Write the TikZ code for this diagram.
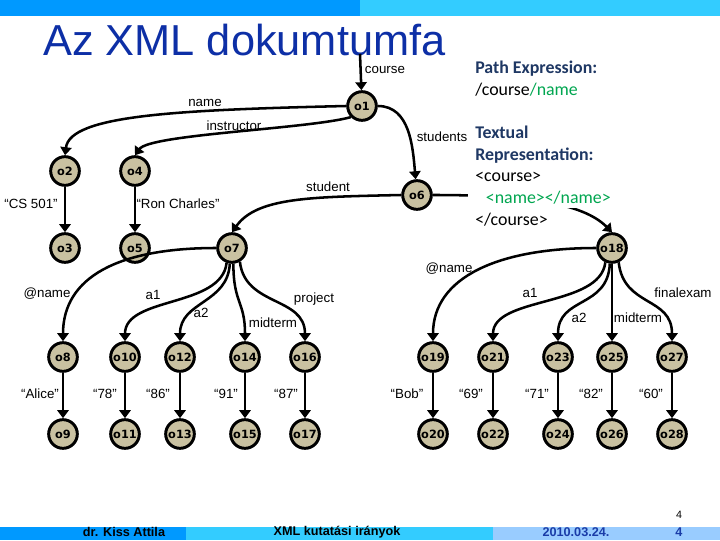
\documentclass[tikz,border=0pt]{standalone}
\usepackage{fontspec}
\setmainfont{Liberation Sans}
\newfontfamily\calfont{Carlito}
\newfontfamily\objfont{DejaVu Sans}
\usetikzlibrary{arrows.meta}
\definecolor{barBlue}{HTML}{0099FF}
\definecolor{barCyan}{HTML}{33CCFF}
\definecolor{barPale}{HTML}{99CCFF}
\definecolor{titleBlue}{HTML}{0D2FA6}
\definecolor{headNavy}{HTML}{1F3864}
\definecolor{pathGreen}{HTML}{00A650}
\definecolor{footBlue}{HTML}{1A3CA8}
\definecolor{objTan}{HTML}{C9C1A1}
\begin{document}
\begin{tikzpicture}[x=0.75pt,y=0.75pt,
  obj/.style={circle, draw=black, line width=2.2pt, fill=objTan, minimum size=21.5pt, inner sep=0pt,
    font=\objfont\bfseries\fontsize{8.5}{9}\selectfont},
  lab/.style={font=\fontsize{10}{11}\selectfont, inner sep=1pt},
  foot/.style={font=\bfseries\fontsize{9.5}{10}\selectfont, inner sep=0pt},
  edge/.style={line width=1.9pt, -{Triangle[length=6pt,width=8.5pt]}}]
\useasboundingbox (0,0) rectangle (720,540);
% bars on top and bottom
\fill[barBlue] (0,524) rectangle (360,540);
\fill[barCyan] (360,524) rectangle (720,540);
\fill[barBlue] (0,0) rectangle (186,13);
\fill[barCyan] (186,0) rectangle (493,13);
\fill[barPale] (493,0) rectangle (720,13);
\node[anchor=base west, inner sep=0pt, text depth=0pt, text=titleBlue, font=\fontsize{32.5}{36}\selectfont] (title) at (43,484) {Az XML dokumtumfa};
% the objects
\node[obj] (o1) at (362,434) {o1};
\node[obj] (o2) at (65,369) {o2};
\node[obj] (o4) at (135,369) {o4};
\node[obj] (o6) at (417,345) {o6};
\node[obj] (o3) at (65,292) {o3};
\node[obj] (o5) at (135,292) {o5};
\node[obj] (o7) at (232,292) {o7};
\node[obj] (o18) at (612,292) {o18};
\node[obj] (o8) at (63,183) {o8};
\node[obj] (o10) at (125,183) {o10};
\node[obj] (o12) at (180,183) {o12};
\node[obj] (o14) at (245,183) {o14};
\node[obj] (o16) at (305,183) {o16};
\node[obj] (o19) at (433,183) {o19};
\node[obj] (o21) at (493,183) {o21};
\node[obj] (o23) at (558,183) {o23};
\node[obj] (o25) at (612,183) {o25};
\node[obj] (o27) at (672,183) {o27};
\node[obj] (o9) at (63,106) {o9};
\node[obj] (o11) at (125,106) {o11};
\node[obj] (o13) at (180,106) {o13};
\node[obj] (o15) at (245,106) {o15};
\node[obj] (o17) at (305,106) {o17};
\node[obj] (o20) at (433,106) {o20};
\node[obj] (o22) at (493,106) {o22};
\node[obj] (o24) at (558,106) {o24};
\node[obj] (o26) at (612,106) {o26};
\node[obj] (o28) at (672,106) {o28};
% upper part of the tree
\coordinate (top) at (360,486);
\draw[edge] (top) -- (o1);
\draw[edge] (o1.west) .. controls +(-170,-4) and +(5,40) .. (o2.north);
\draw[edge] (o1.225) .. controls +(-45,-12) and +(15,21) .. (o4.north);
\draw[edge] (o1) to[out=0,in=95] (o6);
\draw[edge] (o6.west) .. controls +(-90,-2) and +(25,35) .. (o7.north);
\draw[edge] (o6.east) .. controls +(90,0) and +(-30,30) .. (o18.north);
\draw[edge] (o2) -- (o3);
\draw[edge] (o4) -- (o5);
% the two students
\draw[edge] (o7.west) .. controls +(-98,0) and +(0,64) .. (o8.north);
\draw[edge] (o7.250) .. controls +(-5,-45) and +(0,45) .. (o10.north);
\draw[edge] (o7.262) .. controls +(-2,-40) and +(0,40) .. (o12.north);
\draw[edge] (o7.275) .. controls +(0,-40) and +(0,40) .. (o14.north);
\draw[edge] (o7.300) .. controls +(5,-45) and +(0,45) .. (o16.north);
\draw[edge] (o18.west) .. controls +(-98,0) and +(0,64) .. (o19.north);
\draw[edge] (o18.245) .. controls +(-5,-45) and +(0,45) .. (o21.north);
\draw[edge] (o18.262) .. controls +(-2,-45) and +(0,45) .. (o23.north);
\draw[edge] (o18) -- (o25);
\draw[edge] (o18.295) .. controls +(5,-45) and +(0,45) .. (o27.north);
\draw[edge] (o8) -- (o9);   \draw[edge] (o10) -- (o11); \draw[edge] (o12) -- (o13);
\draw[edge] (o14) -- (o15); \draw[edge] (o16) -- (o17);
\draw[edge] (o19) -- (o20); \draw[edge] (o21) -- (o22); \draw[edge] (o23) -- (o24);
\draw[edge] (o25) -- (o26); \draw[edge] (o27) -- (o28);
% path expression, over the o6-o18 edge
\fill[white] (468,332) rectangle (616,486);
\node[anchor=north west, inner sep=0pt, align=left, font=\calfont\fontsize{13.4}{16.2}\selectfont] (expr) at (475,479)
  {\textcolor{headNavy}{\bfseries Path Expression:}\\
   /course\textcolor{pathGreen}{/name}\\[16.2pt]
   \textcolor{headNavy}{\bfseries Textual}\\
   \textcolor{headNavy}{\bfseries Representation:}\\
   <course>\\
   \hspace*{8pt}\textcolor{pathGreen}{<name></name>}\\
   </course>};
% edge labels
\node[lab, inner sep=0pt] (lcourse) at (385,470) {course};
\node[lab] (lname) at (205,437) {name};
\node[lab] (linstr) at (234,414) {instructor};
\node[lab] (lstudents) at (442,403) {students};
\node[lab] (lstudent) at (328,353) {student};
\node[lab] (lcs) at (31,336) {“CS 501”};
\node[lab] (lron) at (178,336) {“Ron Charles”};
\node[lab] (lnameL) at (47,246) {@name};
\node[lab] (la1L) at (153,245) {a1};
\node[lab] (la2L) at (201,227) {a2};
\node[lab] (lmidL) at (273,217) {midterm};
\node[lab] (lproj) at (314,241) {project};
\node[lab] (lnameR) at (449,271) {@name};
\node[lab] (la1R) at (530,247) {a1};
\node[lab] (la2R) at (579,222) {a2};
\node[lab] (lmidR) at (638,222) {midterm};
\node[lab] (lfinal) at (683,247) {finalexam};
\node[lab] (lalice) at (40,146) {“Alice”};
\node[lab] (l78) at (105,146) {“78”};
\node[lab] (l86) at (158,146) {“86”};
\node[lab] (l91) at (226,146) {“91”};
\node[lab] (l87) at (286,146) {“87”};
\node[lab] (lbob) at (407,146) {“Bob”};
\node[lab] (l69) at (471,146) {“69”};
\node[lab] (l71) at (537,146) {“71”};
\node[lab] (l82) at (591,146) {“82”};
\node[lab] (l60) at (651,146) {“60”};
% footer
\node[font=\fontsize{8}{9}\selectfont, inner sep=0pt] (fnum) at (679,25) {4};
\node[foot] (fauthor) at (124,8) {dr. Kiss Attila};
\node[foot] (ftopic) at (337,8) {XML kutatási irányok};
\node[foot, text=footBlue] (fdate) at (576,8) {2010.03.24.};
\node[foot, text=footBlue] (fpage) at (679,8) {4};
\end{tikzpicture}
\end{document}
